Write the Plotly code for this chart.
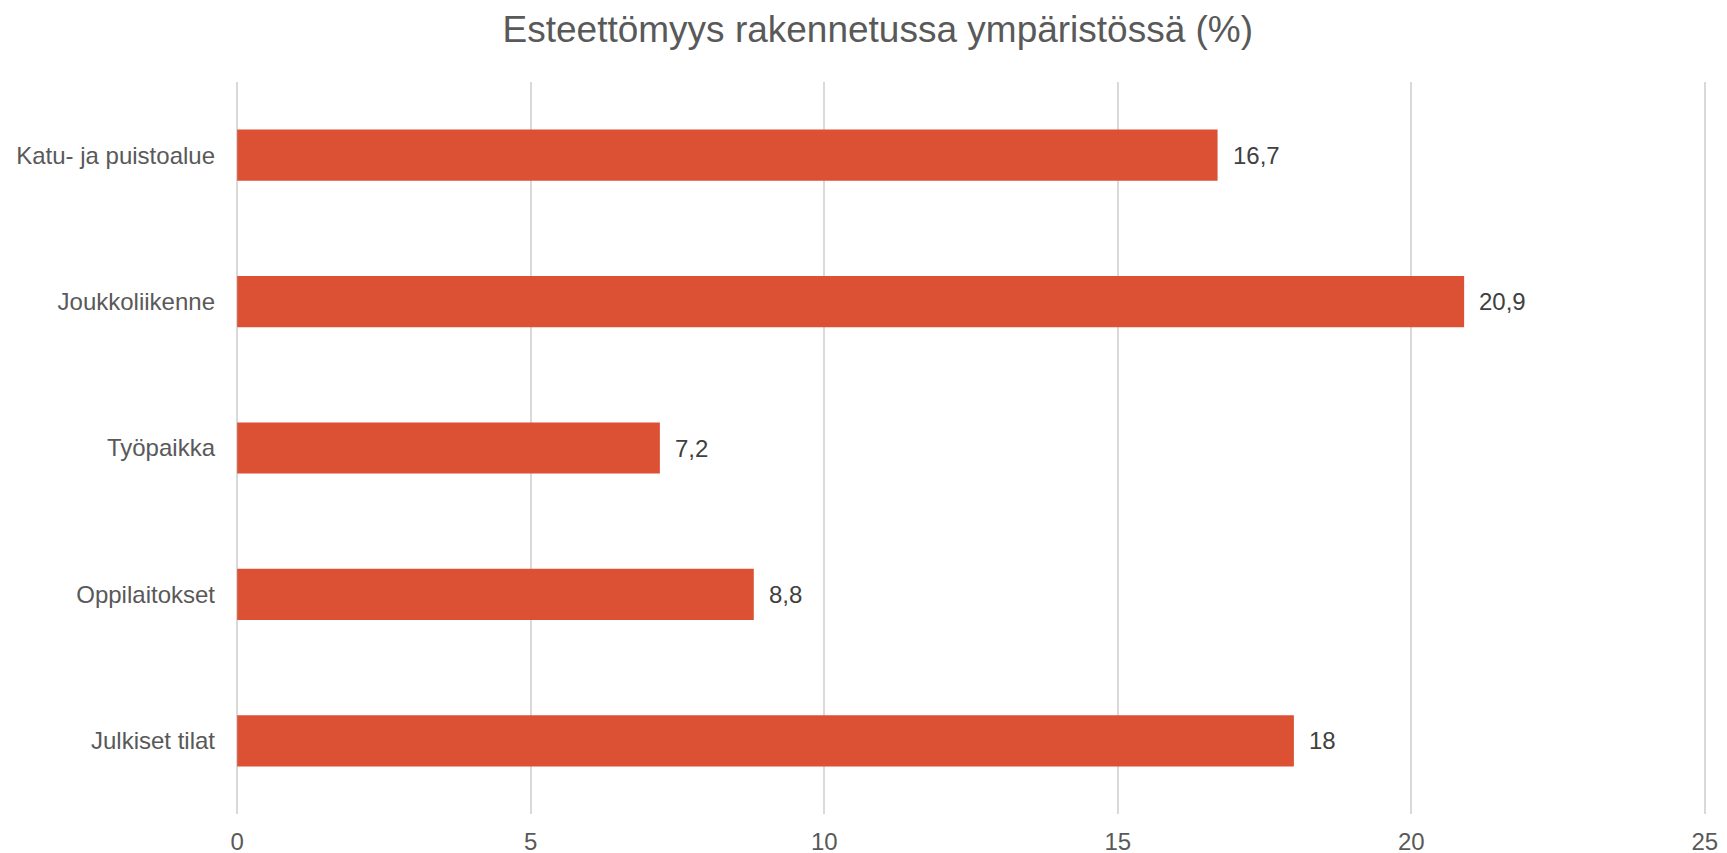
import plotly.graph_objects as go

categories = ["Katu- ja puistoalue", "Joukkoliikenne", "Työpaikka", "Oppilaitokset", "Julkiset tilat"]
values = [16.7, 20.9, 7.2, 8.8, 18]
x_ticks = [0, 5, 10, 15, 20, 25]
title_text = "Esteettömyys rakennetussa ympäristössä (%)"

FONT = "Arial, Liberation Sans, sans-serif"
BAR_COLOR = "#dc5034"
W, H = 1719, 845

fig = go.Figure()
fig.add_trace(go.Bar(
    y=categories,
    x=values,
    orientation="h",
    marker=dict(color=BAR_COLOR, line=dict(width=0)),
    width=0.35,
    hoverinfo="x+y",
))

for c, v in zip(categories, values):
    fig.add_annotation(
        x=v, y=c, xref="x", yref="y",
        text=f"{v:g}".replace(".", ","),
        showarrow=False, xanchor="left", yanchor="middle",
        xshift=13,
        font=dict(family=FONT, size=24, color="#404040"),
    )

fig.update_layout(
    width=W, height=H,
    margin=dict(l=228, r=21, t=74, b=39, autoexpand=False),
    paper_bgcolor="white",
    plot_bgcolor="white",
    showlegend=False,
    separators=", ",
    title=dict(
        text=title_text,
        x=0.506, xanchor="center",
        y=1 - 21 / H, yanchor="middle",
        font=dict(family=FONT, size=37, color="#595959"),
    ),
    xaxis=dict(
        range=[-0.02, 25.02],
        tickvals=x_ticks,
        showgrid=True, gridcolor="#d9d9d9", gridwidth=2,
        zeroline=False, showline=False, ticks="",
        ticklabelstandoff=11,
        tickfont=dict(family=FONT, size=24, color="#595959"),
        fixedrange=True,
    ),
    yaxis=dict(
        categoryorder="array", categoryarray=categories,
        autorange="reversed",
        showgrid=False, zeroline=False, showline=False, ticks="",
        ticklabelstandoff=20,
        tickfont=dict(family=FONT, size=24, color="#595959"),
        fixedrange=True,
    ),
)

fig.write_html("out.html")
